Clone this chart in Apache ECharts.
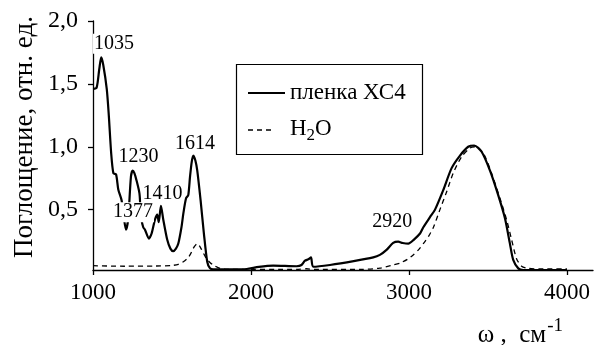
<!DOCTYPE html>
<html>
<head>
<meta charset="utf-8">
<script src="https://cdn.jsdelivr.net/npm/echarts@6/dist/echarts.min.js"></script>
<style>html,body{margin:0;padding:0;background:#fff}#c{width:594px;height:345px}</style>
</head>
<body>
<div id="c"></div>
<script>
// Wavenumbers (cm^-1) and absorbance for the film XC4
var filmX = [1000,1023,1040,1052,1065,1087,1100,1115,1129,1146,1160,1181,1196,1209,1223,1240,1251,1262,1276,1294,1300,1307,1318,1329,1354,1371,1392,1407,1416,1430,1445,1470,1490,1508,1525,1540,1560,1572,1589,1603,1614,1625,1635,1648,1660,1681,1702,1723,1740,1760,1900,1973,2050,2141,2289,2320,2342,2363,2380,2394,2500,2650,2774,2816,2858,2900,2932,2960,2996,3030,3070,3091,3133,3165,3217,3270,3323,3375,3413,3460,3513,3565,3608,3639,3660,3692,3723,3850,4000];
var filmY = [1.46,1.47,1.62,1.71,1.65,1.46,1.25,0.95,0.79,0.78,0.66,0.575,0.43,0.34,0.43,0.76,0.81,0.79,0.73,0.63,0.52,0.42,0.36,0.34,0.27,0.31,0.42,0.46,0.40,0.53,0.42,0.26,0.19,0.17,0.19,0.23,0.36,0.47,0.59,0.615,0.76,0.88,0.93,0.89,0.81,0.575,0.31,0.086,0.035,0.025,0.025,0.028,0.045,0.055,0.05,0.06,0.094,0.105,0.12,0.046,0.06,0.09,0.12,0.14,0.18,0.235,0.245,0.235,0.23,0.26,0.31,0.36,0.44,0.50,0.655,0.83,0.93,1.00,1.01,0.96,0.81,0.615,0.43,0.23,0.10,0.033,0.02,0.02,0.02];
// Water spectrum
var waterX = [1000,1200,1400,1500,1540,1572,1600,1614,1630,1641,1660,1675,1688,1705,1719,1740,1761,1804,1850,2300,2350,2400,2700,2816,2900,2943,2990,3027,3060,3091,3125,3155,3196,3238,3280,3333,3386,3418,3470,3523,3576,3618,3650,3681,3713,3755,3850,4000];
var waterY = [0.054,0.05,0.052,0.056,0.065,0.086,0.115,0.14,0.18,0.205,0.23,0.21,0.18,0.14,0.11,0.08,0.06,0.033,0.025,0.025,0.03,0.025,0.025,0.035,0.06,0.075,0.105,0.14,0.18,0.23,0.29,0.36,0.50,0.64,0.79,0.92,0.99,1.00,0.95,0.79,0.59,0.42,0.26,0.11,0.05,0.033,0.028,0.028];
// Tick values
var xTicks = [1000,2000,3000,4000];
var yTicks = [0.5,1.0,1.5,2.0];
// Peak annotations: label text and anchor (data units)
var peakLabels = ['1035','1230','1377','1410','1614','2920'];
var peakAnchorX = [1133,1288,1253,1440,1646,2895];
var peakAnchorY = [1.82,0.917,0.48,0.63,1.02,0.40];

function zip(a,b){return a.map(function(v,i){return [v,b[i]];});}
var FONT = 'Liberation Serif';
var chart = echarts.init(document.getElementById('c'), null, {renderer:'canvas'});
chart.setOption({
  animation:false,
  backgroundColor:'#fff',
  grid:{left:93,right:1,top:21,bottom:75,containLabel:false},
  xAxis:{
    type:'value', min:1000, max:4165,
    axisLine:{show:true,onZero:false,lineStyle:{color:'#000',width:1.3}},
    axisTick:{show:true,length:5,inside:false,customValues:xTicks,lineStyle:{color:'#000',width:1.3}},
    axisLabel:{show:true,customValues:xTicks,margin:11,color:'#000',fontFamily:FONT,fontSize:23,
      formatter:function(v){return String(v);}},
    splitLine:{show:false}
  },
  yAxis:{
    type:'value', min:0.02, max:2.0,
    axisLine:{show:true,onZero:false,lineStyle:{color:'#000',width:1.3}},
    axisTick:{show:true,length:5,customValues:yTicks,lineStyle:{color:'#000',width:1.3}},
    axisLabel:{show:true,customValues:yTicks,margin:15,color:'#000',fontFamily:FONT,fontSize:24,
      formatter:function(v){return v.toFixed(1).replace('.',',');}},
    splitLine:{show:false}
  },
  series:[
    {
      name:'пленка ХС4', type:'line', data:zip(filmX,filmY), showSymbol:false, smooth:0.25,
      lineStyle:{color:'#000',width:2.2}, z:3,
      markPoint:{
        symbol:'circle', symbolSize:0, silent:true,
        label:{show:true,position:'inside',color:'#000',fontFamily:FONT,fontSize:20,
          backgroundColor:'#fff',padding:[0,1,0,1],formatter:function(p){return p.name;}},
        data:peakLabels.map(function(t,i){return {name:t,coord:[peakAnchorX[i],peakAnchorY[i]]};})
      }
    },
    {
      name:'H2O', type:'line', data:zip(waterX,waterY), showSymbol:false, smooth:0.25,
      lineStyle:{color:'#000',width:1.3,type:[5,4]}, z:2
    }
  ],
  graphic:[
    {type:'text',x:25,y:137,rotation:Math.PI/2,style:{text:'Поглощение, отн. ед.',fontFamily:FONT,fontSize:27,fill:'#000',align:'center',verticalAlign:'middle'}},
    {type:'text',x:563,y:335,style:{text:'{n|ω ,  см}{s|-1}',align:'right',verticalAlign:'middle',
      rich:{n:{fontFamily:FONT,fontSize:25,color:'#000'},s:{fontFamily:FONT,fontSize:19,color:'#000',padding:[0,0,18,1]}}}},
    {type:'rect',shape:{x:236.5,y:64.5,width:186,height:90},style:{fill:'#fff',stroke:'#000',lineWidth:1.2},z:10},
    {type:'line',shape:{x1:248,y1:93,x2:285,y2:93},style:{stroke:'#000',lineWidth:2.2},z:11},
    {type:'text',x:290,y:93,style:{text:'пленка ХС4',fontFamily:FONT,fontSize:23,fill:'#000',verticalAlign:'middle'},z:11},
    {type:'line',shape:{x1:248,y1:130,x2:274,y2:130},style:{stroke:'#000',lineWidth:1.3,lineDash:[5,4]},z:11},
    {type:'text',x:290,y:129,style:{text:'{n|H}{b|2}{n|O}',verticalAlign:'middle',
      rich:{n:{fontFamily:FONT,fontSize:23,color:'#000'},b:{fontFamily:FONT,fontSize:17,color:'#000',padding:[14,0,0,0]}}},z:11}
  ]
});
</script>
</body>
</html>
